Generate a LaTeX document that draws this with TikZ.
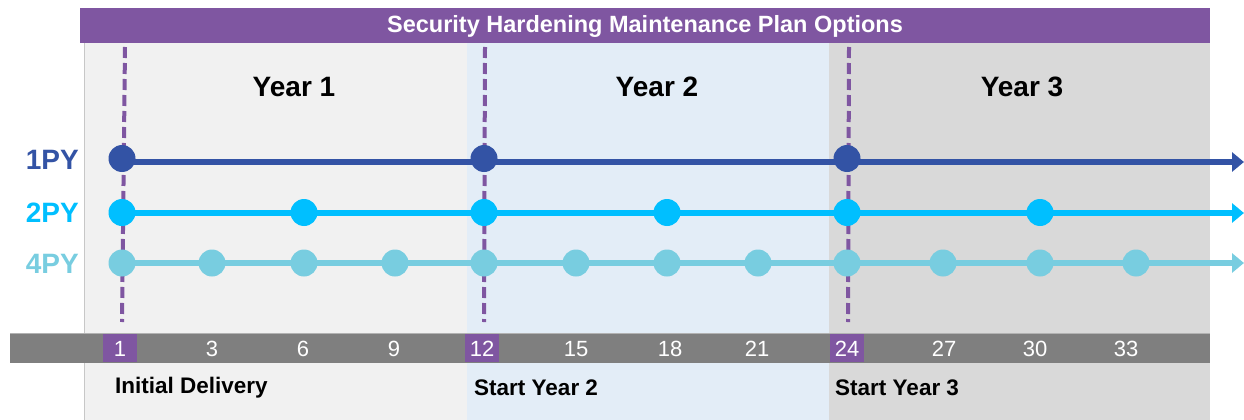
\documentclass[tikz,border=0pt]{standalone}
\usepackage{fontspec}
\setmainfont{Liberation Sans}
\usetikzlibrary{arrows.meta}
\definecolor{hdrpurple}{HTML}{7F56A1}
\definecolor{yrone}{HTML}{F1F1F1}
\definecolor{yrtwo}{HTML}{E3EDF7}
\definecolor{yrthree}{HTML}{D9D9D9}
\definecolor{barg}{HTML}{7F7F7F}
\definecolor{cone}{HTML}{3353A5}
\definecolor{ctwo}{HTML}{00BFFF}
\definecolor{cfour}{HTML}{78CDE0}
\tikzset{
  rowlbl/.style={anchor=east,font=\fontsize{28}{30}\selectfont\bfseries,inner sep=0pt},
  yearlbl/.style={font=\fontsize{28}{30}\selectfont\bfseries,inner sep=0pt},
  numlbl/.style={text=white,font=\fontsize{22}{24}\selectfont,inner sep=0pt},
  startlbl/.style={anchor=west,font=\fontsize{22.5}{24}\selectfont\bfseries,inner sep=0pt},
  purpbox/.style={fill=hdrpurple,draw=none},
  vdash/.style={hdrpurple,line width=4pt,dash pattern=on 11pt off 5pt},
  dotone/.style={circle,fill=cone,minimum size=27pt,inner sep=0pt},
  dottwo/.style={circle,fill=ctwo,minimum size=27pt,inner sep=0pt},
  dotfour/.style={circle,fill=cfour,minimum size=27pt,inner sep=0pt},
  arrtip/.style={-{Triangle[length=12pt,width=19pt]}}
}
\begin{document}
\begin{tikzpicture}[x=1pt,y=-1pt]
\path[use as bounding box] (0,0) rectangle (1244,420);
% panels
\fill[yrone] (84,43) rectangle (467,420);
\fill[yrtwo] (467,43) rectangle (829,420);
\fill[yrthree] (829,43) rectangle (1210,420);
\draw[color=black!22,line width=1pt] (84,43) -- (84,420);
% header
\fill[hdrpurple] (80,8) rectangle (1210,43);
\node[text=white,font=\fontsize{23.5}{26}\selectfont\bfseries,inner sep=0pt] (title) at (645,26) {Security Hardening Maintenance Plan Options};
% year labels
\node[yearlbl] (y1) at (294,87) {Year 1};
\node[yearlbl] (y2) at (657,87) {Year 2};
\node[yearlbl] (y3) at (1022,87) {Year 3};
% bottom bar
\fill[barg] (10,333) rectangle (1210,363);
\draw[color=black!30,line width=1pt] (10,333) -- (1210,333);
\fill[purpbox] (103,334) rectangle (137,362);
\fill[purpbox] (465,334) rectangle (499,362);
\fill[purpbox] (830,334) rectangle (864,362);
\foreach \n/\x in {1/120,3/212,6/303,9/394,12/482,15/576,18/670,21/757,24/847,27/944,30/1035,33/1126}{
  \node[numlbl] (num\n) at (\x,349) {\n};
}
% start labels
\node[startlbl] (s1) at (115,388) {Initial Delivery};
\node[startlbl] (s2) at (474,388) {Start Year 2};
\node[startlbl] (s3) at (835,388) {Start Year 3};
% dashed verticals
\coordinate (d1t) at (125,47); \coordinate (d1b) at (122,322);
\coordinate (d2t) at (485,47); \coordinate (d2b) at (484,322);
\coordinate (d3t) at (849,47); \coordinate (d3b) at (848,322);
\draw[vdash] (d1t) -- (d1b);
\draw[vdash] (d2t) -- (d2b);
\draw[vdash] (d3t) -- (d3b);
% row labels
\node[rowlbl,text=cone] (l1) at (79,160) {1PY};
\node[rowlbl,text=ctwo] (l2) at (79,213) {2PY};
\node[rowlbl,text=cfour] (l4) at (79,264) {4PY};
% end coordinates
\coordinate (e1) at (1244,162);
\coordinate (e2) at (1244,213);
\coordinate (e4) at (1244,263);
% lines
\coordinate (a1) at (122,162);
\coordinate (a2) at (122,213);
\coordinate (a4) at (122,263);
\draw[cone,line width=6pt,arrtip] (a1) -- (e1);
\draw[ctwo,line width=6pt,arrtip] (a2) -- (e2);
\draw[cfour,line width=5.5pt,arrtip] (a4) -- (e4);
% dots
\foreach \i/\x in {1/122,2/484,3/847}{ \node[dotone] (p1\i) at (\x,158.5) {}; }
\foreach \i/\x in {1/122,2/304,3/484,4/667,5/847,6/1040}{ \node[dottwo] (p2\i) at (\x,212.5) {}; }
\foreach \i/\x in {1/122,2/212,3/304,4/395,5/484,6/576,7/667,8/758,9/847,10/943,11/1040,12/1136}{ \node[dotfour] (p4\i) at (\x,263) {}; }
\end{tikzpicture}
\end{document}
